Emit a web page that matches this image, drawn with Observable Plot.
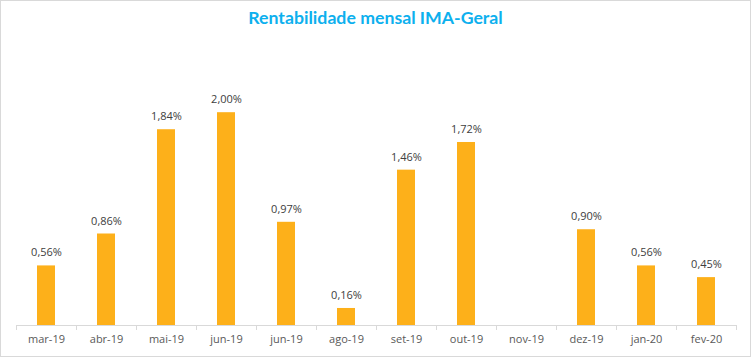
<!DOCTYPE html>
<html>
<head>
<meta charset="utf-8">
<script src="https://cdn.jsdelivr.net/npm/d3@7"></script>
<script src="https://cdn.jsdelivr.net/npm/@observablehq/plot@0.6"></script>
<style>
  html, body { margin: 0; padding: 0; background: #fff; }
  #chart { width: 749px; height: 355px; border: 1px solid #d9d9d9; position: relative; overflow: hidden; }
  #title { height: 33px; line-height: 33px; text-align: center; font-family: Lato, sans-serif; font-weight: bold; font-size: 17.7px; color: #0DB0EE; }
</style>
</head>
<body>
<div id="chart">
  <div id="title">Rentabilidade mensal IMA-Geral</div>
</div>
<script>
const labels = ["mar-19","abr-19","mai-19","jun-19","jun-19","ago-19","set-19","out-19","nov-19","dez-19","jan-20","fev-20"];
const values = [0.56, 0.86, 1.84, 2.00, 0.97, 0.16, 1.46, 1.72, null, 0.90, 0.56, 0.45];

const data = labels.map((label, i) => ({i, label, value: values[i]}));
const idx = data.map(d => d.i);
const fmt = v => v.toFixed(2).replace(".", ",") + "%";

const chart = Plot.plot({
  width: 749,
  height: 321,
  marginTop: 25,
  marginBottom: 30,
  marginLeft: 15,
  marginRight: 14,
  style: {fontFamily: "'Open Sans', sans-serif", fontSize: "11px", color: "#595959", background: "#fff"},
  x: {domain: idx, paddingInner: 0.7, paddingOuter: 0.35, tickFormat: i => labels[i], tickSize: 0, label: null, tickPadding: 10},
  y: {domain: [0, 2.5], axis: null},
  marks: [
    Plot.barY(data.filter(d => d.value != null), {x: "i", y: "value", fill: "#FDB01A"}),
    Plot.ruleY([0], {stroke: "#d9d9d9", strokeWidth: 1}),
    Plot.ruleX(idx, {x: d => d, y1: 0, y2: 0, insetBottom: -5, dx: -30, stroke: "#d9d9d9"}),
    Plot.ruleX([idx[idx.length - 1]], {x: d => d, y1: 0, y2: 0, insetBottom: -5, dx: 30, stroke: "#d9d9d9"}),
    Plot.text(data.filter(d => d.value != null), {x: "i", y: "value", text: d => fmt(d.value), dy: -13, fill: "#404040", fontSize: 11})
  ]
});
document.getElementById("chart").appendChild(chart);
</script>
</body>
</html>
